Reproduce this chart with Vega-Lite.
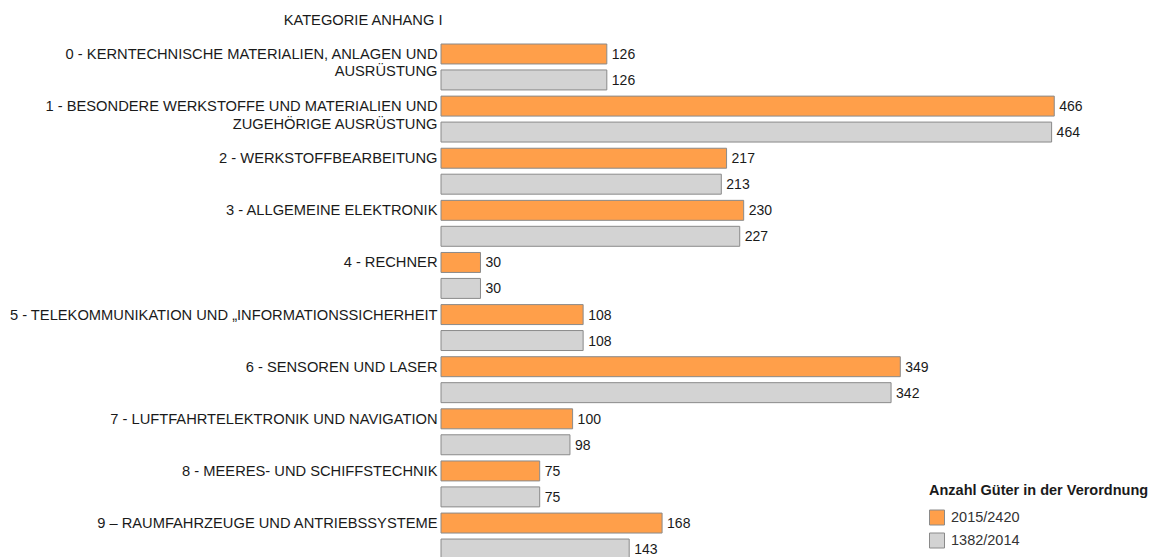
{
  "$schema": "https://vega.github.io/schema/vega-lite/v6.json",
  "autosize": {"type": "none"},
  "padding": {"left": 441, "top": 44, "right": 60, "bottom": 0},
  "width": 658,
  "height": 513,
  "background": "white",
  "config": {
    "view": {"stroke": null},
    "font": "Liberation Sans",
    "text": {"font": "Liberation Sans"}
  },
  "data": {
    "values": [
      {"cat": "0 - KERNTECHNISCHE MATERIALIEN, ANLAGEN UND|AUSRÜSTUNG", "series": "2015/2420", "value": 126},
      {"cat": "0 - KERNTECHNISCHE MATERIALIEN, ANLAGEN UND|AUSRÜSTUNG", "series": "1382/2014", "value": 126},
      {"cat": "1 - BESONDERE WERKSTOFFE UND MATERIALIEN UND|ZUGEHÖRIGE AUSRÜSTUNG", "series": "2015/2420", "value": 466},
      {"cat": "1 - BESONDERE WERKSTOFFE UND MATERIALIEN UND|ZUGEHÖRIGE AUSRÜSTUNG", "series": "1382/2014", "value": 464},
      {"cat": "2 - WERKSTOFFBEARBEITUNG", "series": "2015/2420", "value": 217},
      {"cat": "2 - WERKSTOFFBEARBEITUNG", "series": "1382/2014", "value": 213},
      {"cat": "3 - ALLGEMEINE ELEKTRONIK", "series": "2015/2420", "value": 230},
      {"cat": "3 - ALLGEMEINE ELEKTRONIK", "series": "1382/2014", "value": 227},
      {"cat": "4 - RECHNER", "series": "2015/2420", "value": 30},
      {"cat": "4 - RECHNER", "series": "1382/2014", "value": 30},
      {"cat": "5 - TELEKOMMUNIKATION UND „INFORMATIONSSICHERHEIT", "series": "2015/2420", "value": 108},
      {"cat": "5 - TELEKOMMUNIKATION UND „INFORMATIONSSICHERHEIT", "series": "1382/2014", "value": 108},
      {"cat": "6 - SENSOREN UND LASER", "series": "2015/2420", "value": 349},
      {"cat": "6 - SENSOREN UND LASER", "series": "1382/2014", "value": 342},
      {"cat": "7 - LUFTFAHRTELEKTRONIK UND NAVIGATION", "series": "2015/2420", "value": 100},
      {"cat": "7 - LUFTFAHRTELEKTRONIK UND NAVIGATION", "series": "1382/2014", "value": 98},
      {"cat": "8 - MEERES- UND SCHIFFSTECHNIK", "series": "2015/2420", "value": 75},
      {"cat": "8 - MEERES- UND SCHIFFSTECHNIK", "series": "1382/2014", "value": 75},
      {"cat": "9 – RAUMFAHRZEUGE UND ANTRIEBSSYSTEME", "series": "2015/2420", "value": 168},
      {"cat": "9 – RAUMFAHRZEUGE UND ANTRIEBSSYSTEME", "series": "1382/2014", "value": 143}
    ]
  },
  "encoding": {
    "y": {
      "field": "cat",
      "type": "nominal",
      "sort": null,
      "scale": {"range": [0, 515], "paddingInner": 0.1188, "paddingOuter": 0},
      "axis": {
        "title": "KATEGORIE ANHANG I",
        "titleAngle": 0,
        "titleAlign": "right",
        "titleBaseline": "middle",
        "titleX": 1,
        "titleY": -24,
        "titleFont": "Liberation Sans",
        "titleFontSize": 14.7,
        "titleFontWeight": "normal",
        "titleColor": "#1a1a1a",
        "domain": false,
        "ticks": false,
        "labelPadding": 4,
        "labelAlign": "right",
        "labelBaseline": "top",
        "labelOffset": -20,
        "labelLimit": 500,
        "labelFont": "Liberation Sans",
        "labelFontSize": 14.7,
        "labelColor": "#1a1a1a",
        "labelLineHeight": 17.5,
        "labelExpr": "split(datum.label, '|')"
      }
    },
    "yOffset": {
      "field": "series",
      "type": "nominal",
      "sort": ["2015/2420", "1382/2014"],
      "scale": {"paddingInner": 0.2308, "paddingOuter": 0}
    },
    "x": {
      "field": "value",
      "type": "quantitative",
      "scale": {"domain": [0, 500], "nice": false},
      "axis": null
    }
  },
  "layer": [
    {
      "mark": {"type": "bar", "stroke": "#8a8a8a", "strokeWidth": 1},
      "encoding": {
        "color": {
          "field": "series",
          "type": "nominal",
          "scale": {"domain": ["2015/2420", "1382/2014"], "range": ["#ff9f4a", "#d3d3d3"]},
          "legend": {
            "title": "Anzahl Güter in der Verordnung",
            "orient": "none",
            "legendX": 488,
            "legendY": 440,
            "titleLimit": 400,
            "titleFont": "Liberation Sans",
            "titleFontSize": 14.5,
            "titleFontWeight": "bold",
            "titleColor": "#1a1a1a",
            "titlePadding": 11,
            "labelFont": "Liberation Sans",
            "labelFontSize": 14.5,
            "labelColor": "#333333",
            "symbolType": "square",
            "symbolSize": 225,
            "symbolStrokeColor": "#8a8a8a",
            "symbolStrokeWidth": 1,
            "symbolOpacity": 1,
            "rowPadding": 3,
            "labelOffset": 6
          }
        }
      }
    },
    {
      "mark": {"type": "text", "align": "left", "baseline": "middle", "dx": 5, "dy": 1, "fontSize": 14, "font": "Liberation Sans", "color": "#1a1a1a"},
      "encoding": {
        "text": {"field": "value", "type": "quantitative"}
      }
    }
  ]
}
